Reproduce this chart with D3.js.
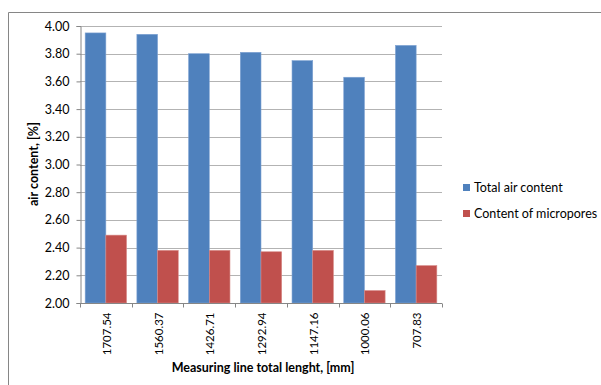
<!DOCTYPE html>
<html><head><meta charset="utf-8">
<script src="https://cdn.jsdelivr.net/npm/d3@7"></script>
<style>body{margin:0;background:#fff}svg{display:block}text{font-family:Lato,"Open Sans",sans-serif;fill:#000}</style>
</head><body><svg id="c" width="601" height="385"></svg>
<script>
const categories = ["1707.54","1560.37","1426.71","1292.94","1147.16","1000.06","707.83"];
const totalAir = [3.95,3.94,3.80,3.81,3.75,3.63,3.86];
const micropores = [2.49,2.38,2.38,2.37,2.38,2.09,2.27];
const seriesNames = ["Total air content","Content of micropores"];
const yTicks = [2.00,2.20,2.40,2.60,2.80,3.00,3.20,3.40,3.60,3.80,4.00];
const colors = ["#4F81BD","#C0504D"];
const strokes = ["#7FA3D3","#D78B89"];

const svg = d3.select("#c");
svg.append("line").attr("x1",8.5).attr("x2",8.5).attr("y1",12.5).attr("y2",385).attr("stroke","#868686");
svg.append("line").attr("x1",8.5).attr("x2",601).attr("y1",12.5).attr("y2",12.5).attr("stroke","#868686");

const L=80,R=442,T=26,B=303;
const x = d3.scaleBand().domain(categories).range([L,R]).paddingInner(0.2).paddingOuter(0.1);
const x1 = d3.scaleBand().domain([0,1]).range([0,x.bandwidth()]);
const y = d3.scaleLinear().domain([2,4]).range([B,T]);

svg.append("g").selectAll("line").data(yTicks.slice(1)).join("line")
  .attr("x1",L).attr("x2",R).attr("y1",d=>Math.round(y(d))+0.5).attr("y2",d=>Math.round(y(d))+0.5)
  .attr("stroke","#B3B3B3");

const data = [totalAir, micropores];
data.forEach((vals,si)=>{
  svg.append("g").selectAll("rect").data(vals).join("rect")
    .attr("x",(d,i)=>x(categories[i])+x1(si))
    .attr("width",x1.bandwidth())
    .attr("y",d=>y(d))
    .attr("height",d=>B-y(d))
    .attr("fill",colors[si]).attr("stroke",strokes[si]).attr("stroke-width",0.6);
});

const ya = svg.append("g").attr("transform",`translate(${L+0.5},0)`)
  .call(d3.axisLeft(y).tickValues(yTicks).tickFormat(d3.format(".2f")).tickSize(4).tickPadding(7));
ya.select(".domain").attr("stroke","#868686");
ya.selectAll(".tick line").attr("stroke","#868686");
ya.selectAll("text").style("font-size","12.5px").attr("fill","#000");

const xa = svg.append("g").attr("transform",`translate(0,${B+0.5})`);
xa.append("line").attr("x1",L).attr("x2",R).attr("stroke","#868686");
xa.selectAll(".tk").data(d3.range(categories.length+1)).join("line")
  .attr("x1",i=>Math.round(L+i*(R-L)/categories.length)+0.5)
  .attr("x2",i=>Math.round(L+i*(R-L)/categories.length)+0.5)
  .attr("y1",0).attr("y2",4).attr("stroke","#868686");
xa.selectAll("text").data(categories).join("text")
  .attr("transform",d=>`translate(${x(d)+x.bandwidth()/2+1},9) rotate(-90)`)
  .attr("text-anchor","end").attr("dy","0.35em").style("font-size","11.5px").text(d=>d);

svg.append("text").attr("x",263).attr("y",372).attr("text-anchor","middle")
  .style("font-size","12.5px").style("font-weight","bold").text("Measuring line total lenght, [mm]");
svg.append("text").attr("transform","translate(38,164) rotate(-90)").attr("text-anchor","middle")
  .style("font-size","12.5px").style("font-weight","bold").text("air content, [%]");

const lg = svg.append("g");
seriesNames.forEach((n,i)=>{
  lg.append("rect").attr("x",463).attr("y",184+i*26).attr("width",7).attr("height",7).attr("fill",colors[i]);
  lg.append("text").attr("x",474).attr("y",188+i*26).attr("dy","0.35em").style("font-size","12.5px").text(n);
});
</script></body></html>
